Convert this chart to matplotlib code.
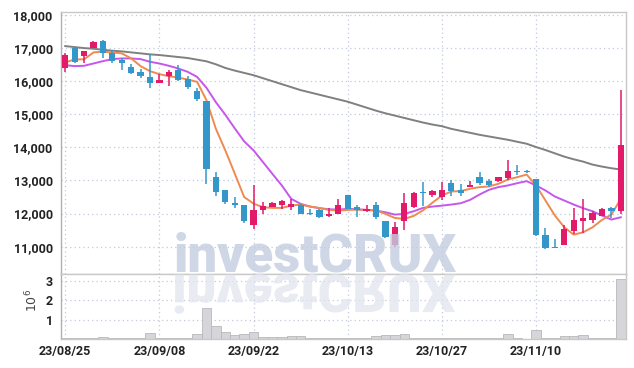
import matplotlib
matplotlib.use("Agg")
import matplotlib.pyplot as plt
import numpy as np
from matplotlib.textpath import TextPath
from matplotlib.patches import PathPatch
from matplotlib.font_manager import FontProperties
from matplotlib.transforms import Affine2D

# ---------------- data ----------------
tick_labels = ["23/08/25", "23/09/08", "23/09/22", "23/10/13", "23/10/27", "23/11/10"]
tick_index = [0, 10, 20, 30, 40, 50]

opens = [16400, 17010, 16770, 17000, 17220, 16840, 16640, 16430, 16280, 16130,
         15930, 16150, 16330, 16080, 15710, 15400, 13120, 12720, 12310, 12270,
         11670, 12110, 12210, 12250, 12190, 12270, 12000, 12110, 11920, 11990,
         12550, 12210, 12090, 12270, 11790, 11050, 11770, 12210, 12650, 12550,
         12500, 12920, 12700, 12800, 13120, 12970, 12980, 13070, 13300, 13300,
         13050, 11360, 11000, 11060, 11470, 11790, 11810, 11940, 12160, 12090]
highs = [16860, 17010, 16910, 17200, 17240, 16940, 16690, 16530, 16380, 16810,
         16210, 16340, 16500, 16150, 15780, 15400, 13250, 12720, 12500, 12270,
         12870, 12340, 12340, 12420, 12450, 12300, 12140, 12130, 12160, 12440,
         12550, 12250, 12250, 12340, 11790, 11760, 12620, 12650, 12950, 12720,
         12940, 13020, 12900, 12980, 13250, 13030, 13110, 13630, 13460, 13330,
         13050, 11570, 11240, 11660, 12170, 12450, 12070, 12170, 12200, 15730]
lows = [16280, 16540, 16560, 16990, 16690, 16540, 16350, 16210, 16100, 15780,
        15930, 15850, 16010, 15750, 15400, 12900, 12520, 12280, 12180, 11710,
        11540, 11980, 12190, 12140, 12100, 11990, 11960, 11880, 11900, 11990,
        12140, 11900, 12040, 11830, 11250, 10990, 11510, 12160, 12240, 12500,
        12420, 12520, 12520, 12800, 12850, 12800, 12940, 13000, 13180, 13230,
        11320, 10920, 10950, 11050, 11380, 11400, 11720, 11940, 11880, 11990]
closes = [16790, 16590, 16910, 17190, 16840, 16610, 16540, 16250, 16150, 15930,
          16030, 16280, 16050, 15830, 15450, 13350, 12650, 12340, 12270, 11790,
          12120, 12240, 12310, 12370, 12290, 11990, 11990, 11910, 11990, 12270,
          12140, 12120, 12140, 11890, 11300, 11600, 12310, 12620, 12620, 12670,
          12700, 12670, 12630, 12850, 12920, 12870, 13100, 13300, 13270, 13270,
          11360, 10950, 10950, 11540, 11820, 11860, 12010, 12140, 12070, 14060]
volume_m = [0.03, 0.03, 0.03, 0.03, 0.08, 0.03, 0.03, 0.03, 0.05, 0.30,
            0.05, 0.05, 0.05, 0.05, 0.25, 1.60, 0.68, 0.35, 0.21, 0.26,
            0.35, 0.10, 0.10, 0.10, 0.16, 0.16, 0.05, 0.05, 0.05, 0.05,
            0.05, 0.05, 0.05, 0.15, 0.20, 0.20, 0.26, 0.06, 0.04, 0.07,
            0.04, 0.03, 0.03, 0.03, 0.03, 0.03, 0.05, 0.25, 0.05, 0.02,
            0.45, 0.07, 0.07, 0.14, 0.14, 0.19, 0.05, 0.07, 0.03, 3.10]
ma5 = [16567, 16658, 16660, 16870, 16890, 16870, 16840, 16690, 16455, 16303,
       16212, 16150, 16110, 16050, 15980, 15425, 14560, 13910, 13210, 12500,
       12300, 12192, 12172, 12172, 12240, 12273, 12212, 12170, 12110, 12090,
       12110, 12120, 12110, 12100, 11990, 11869, 11838, 11930, 12100, 12330,
       12546, 12667, 12680, 12750, 12800, 12820, 12900, 13030, 13100, 13180,
       12850, 12394, 11940, 11586, 11364, 11435, 11586, 11808, 11970, 12445]
ma20 = [16485, 16455, 16465, 16535, 16605, 16667, 16687, 16687, 16667, 16586,
        16535, 16465, 16384, 16283, 16130, 15800, 15364, 14985, 14576, 14182,
        13909, 13555, 13200, 12850, 12445, 12294, 12212, 12162, 12131, 12121,
        12142, 12131, 12110, 12090, 12040, 11970, 11990, 12070, 12172, 12212,
        12240, 12273, 12313, 12415, 12576, 12718, 12800, 12850, 12919, 12980,
        12850, 12697, 12515, 12394, 12273, 12162, 12070, 11940, 11819, 11889]
ma60 = [17060, 17030, 17000, 16980, 16950, 16920, 16900, 16870, 16840, 16810,
        16790, 16760, 16730, 16700, 16650, 16600, 16510, 16400, 16320, 16250,
        16180, 16090, 16000, 15910, 15820, 15730, 15660, 15590, 15520, 15450,
        15380, 15290, 15200, 15110, 15030, 14960, 14890, 14820, 14750, 14690,
        14640, 14560, 14500, 14440, 14380, 14330, 14280, 14230, 14170, 14110,
        14010, 13920, 13820, 13720, 13640, 13570, 13480, 13420, 13370, 13330]
price_ticks = [11000, 12000, 13000, 14000, 15000, 16000, 17000, 18000]
vol_ticks = [1, 2, 3]
watermark = "investCRUX"

# ---------------- style ----------------
UP = "#e3196a"
DOWN = "#3398c9"
GRID = "#c3c9dc"
SPINE = "#c8c8c8"
W, H, DPI = 634, 368, 100
tick_font = FontProperties(family="Roboto", weight="bold", size=9)

fig = plt.figure(figsize=(W / DPI, H / DPI), dpi=DPI)
fig.patch.set_facecolor("white")

L, R = 61 / W, 626 / W
ax = fig.add_axes([L, 1 - 274 / H, R - L, (274 - 12) / H])
axv = fig.add_axes([L, 1 - 339 / H, R - L, (339 - 274) / H], sharex=ax)

x = np.arange(len(opens))
o = np.array(opens); c = np.array(closes)
hi = np.array(highs); lo = np.array(lows)
up = c >= o
cols = np.where(up, UP, DOWN)

# gridlines
for a in (ax, axv):
    a.set_axisbelow(True)
    a.grid(True, linestyle=(0, (1, 2.5)), color=GRID, linewidth=0.9)

# moving averages
ax.plot(x, ma60, color="#808080", linewidth=1.4, zorder=2)
ax.plot(x, ma20, color="#c657ea", linewidth=1.4, zorder=2)
ax.plot(x, ma5, color="#ef8a50", linewidth=1.4, zorder=2)

# candles
ax.vlines(x, lo, hi, colors=cols, linewidth=1.1, zorder=3)
body_h = np.maximum(np.abs(c - o), 25)
ax.bar(x, body_h, bottom=np.minimum(o, c), width=0.66, color=cols,
       edgecolor="none", zorder=4)

ax.set_xlim(-0.45, 59.55)
ax.set_ylim(10175, 18090)
ax.set_yticks(price_ticks)
ax.set_yticklabels([f"{v:,}" for v in price_ticks])
ax.tick_params(axis="y", length=0, pad=6)
ax.tick_params(axis="x", length=0, labelbottom=False)
ax.set_xticks(tick_index)

# volume
axv.bar(x, volume_m, width=1.0, color="#d6d6da", edgecolor="#b8b8bc",
        linewidth=0.6, zorder=2)
axv.set_ylim(0, 3.36)
axv.set_yticks(vol_ticks)
axv.set_yticklabels([str(v) for v in vol_ticks])
axv.set_xticks(tick_index)
axv.set_xticklabels(tick_labels)
axv.tick_params(axis="both", length=0)
axv.tick_params(axis="y", pad=6)
axv.tick_params(axis="x", pad=4)

for a in (ax, axv):
    for s in a.spines.values():
        s.set_color(SPINE)
        s.set_linewidth(1.0)
    for lab in a.get_xticklabels() + a.get_yticklabels():
        lab.set_fontproperties(tick_font)
        lab.set_color("#222222")
ax.spines["left"].set_color("#b0b0b0")
axv.spines["left"].set_color("#b0b0b0")

fig.text(32 / W, 1 - 300 / H, r"$10^{6}$", rotation=90, ha="center",
         va="center", fontsize=9, color="#444444")

# watermark (text) + reflection
wm_font = FontProperties(family="Roboto", weight="black", size=38)
cx_px, base_px = 315, H - 271.5
fig.text(cx_px / W, base_px / H, watermark, fontproperties=wm_font,
         ha="center", va="baseline", color="#c4cde0", alpha=0.8, zorder=5)
tp = TextPath((0, 0), watermark, prop=wm_font)
ext = tp.get_extents()
w_in = ext.width / 72
x0_in = cx_px / DPI - w_in / 2 - ext.x0 / 72
y0_in = (base_px - 3) / DPI
tr = Affine2D().scale(1 / 72, -1 / 72).translate(x0_in, y0_in) + fig.dpi_scale_trans
refl = PathPatch(tp, transform=tr, facecolor="#e2e5ee", edgecolor="none",
                 alpha=0.75, zorder=4)
fig.add_artist(refl)

fig.savefig("out.png", dpi=DPI, facecolor="white")
